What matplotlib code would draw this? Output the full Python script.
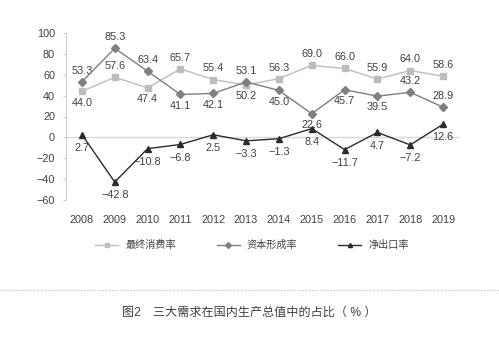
import matplotlib
matplotlib.use("Agg")
import matplotlib.pyplot as plt
from matplotlib.lines import Line2D

plt.rcParams['font.family'] = ['Liberation Sans', 'Noto Sans CJK SC', 'DejaVu Sans']

years = [2008, 2009, 2010, 2011, 2012, 2013, 2014, 2015, 2016, 2017, 2018, 2019]
consumption = [44.0, 57.6, 47.4, 65.7, 55.4, 50.2, 56.3, 69.0, 66.0, 55.9, 64.0, 58.6]
capital = [53.3, 85.3, 63.4, 41.1, 42.1, 53.1, 45.0, 22.6, 45.7, 39.5, 43.2, 28.9]
net_export = [2.7, -42.8, -10.8, -6.8, 2.5, -3.3, -1.3, 8.4, -11.7, 4.7, -7.2, 12.6]
cons_pos = ['b', 'a', 'b', 'a', 'a', 'b', 'a', 'a', 'a', 'a', 'a', 'a']
cap_pos = ['a', 'a', 'a', 'b', 'b', 'a', 'b', 'b', 'b', 'b', 'a', 'a']
net_pos = ['b'] * 12
series_names = ['最终消费率', '资本形成率', '净出口率']
y_ticks = [-60, -40, -20, 0, 20, 40, 60, 80, 100]
caption = '图2　三大需求在国内生产总值中的占比（ % ）'

fig = plt.figure(figsize=(4.99, 3.38), dpi=100)
ax = fig.add_axes([65.5/499, 1-200/338, (459.5-65.5)/499, (200-33)/338])
ax.set_xlim(2007.5, 2019.5)
ax.set_ylim(-60, 100)

c_cons = '#bdbdbd'
c_cap = '#7f7f7f'
c_net = '#2b2b2b'
txt = '#404040'
fs = 7.8

ax.axhline(0, color='#d9d9d9', lw=1.0, zorder=1)
ax.plot(years, consumption, color=c_cons, marker='s', ms=4, lw=1.0, zorder=3)
ax.plot(years, capital, color=c_cap, marker='D', ms=4, lw=1.0, zorder=4)
ax.plot(years, net_export, color=c_net, marker='^', ms=4, lw=1.0, zorder=5)

def fmt(v):
    s = f"{v:.1f}"
    return s.replace('-', '\u2212')

def annotate(vals, pos, above=8.0, below=-8.0):
    for x, v, p in zip(years, vals, pos):
        off = above if p == 'a' else below
        ax.annotate(fmt(v), (x, v), xytext=(0, off), textcoords='offset points',
                    ha='center', va='center', fontsize=fs, color=txt)

annotate(consumption, cons_pos)
annotate(capital, cap_pos)
annotate(net_export, net_pos, below=-9.5)

for s in ['top', 'right', 'bottom']:
    ax.spines[s].set_visible(False)
ax.spines['left'].set_color('#d0d0d0')
ax.set_yticks(y_ticks)
ax.set_yticklabels([str(t).replace('-', '\u2212') for t in y_ticks])
ax.set_xticks(years)
ax.set_xticklabels([str(y) for y in years])
ax.tick_params(axis='y', length=2.5, width=0.8, color='#d0d0d0', pad=5, labelsize=fs, labelcolor=txt)
ax.tick_params(axis='x', length=0, pad=11, labelsize=fs, labelcolor=txt)

handles = [
    Line2D([], [], color=c_cons, marker='s', ms=3, lw=1.0),
    Line2D([], [], color=c_cap, marker='D', ms=3, lw=1.0),
    Line2D([], [], color=c_net, marker='^', ms=3, lw=1.0),
]
fig.legend(handles, series_names, loc='center', bbox_to_anchor=(0.505, 1-245/338),
           ncol=3, frameon=False, fontsize=7.3, handlelength=2.3, columnspacing=4.0,
           labelcolor=txt, handletextpad=0.7)

fig.add_artist(Line2D([0, 1], [1-290/338, 1-290/338], color='#bbbbbb', lw=0.8,
                      linestyle=(0, (1, 1.5)), transform=fig.transFigure))
fig.text(0.5, 1-313/338, caption, ha='center', va='center', fontsize=8.7, color=txt)

fig.savefig('out.png', dpi=100)
